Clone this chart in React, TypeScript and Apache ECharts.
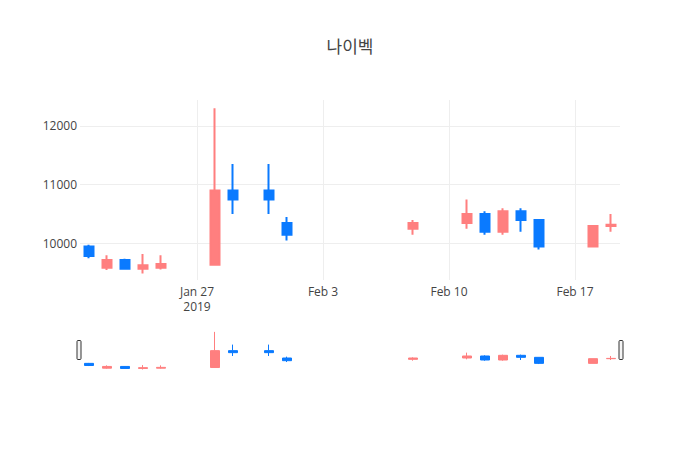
import React, { useEffect, useRef } from "react";
import * as echarts from "echarts";

const title = "나이벡";
const dates = [
  "2019-01-21", "2019-01-22", "2019-01-23", "2019-01-24", "2019-01-25",
  "2019-01-28", "2019-01-29", "2019-01-31", "2019-02-01", "2019-02-08",
  "2019-02-11", "2019-02-12", "2019-02-13", "2019-02-14", "2019-02-15",
  "2019-02-18", "2019-02-19",
];
const openV = [9950, 9590, 9720, 9570, 9590, 9640, 10900, 10900, 10350, 10250, 10350, 10500, 10200, 10550, 10400, 9950, 10300];
const highV = [9980, 9800, 9740, 9820, 9800, 12300, 11350, 11350, 10450, 10400, 10750, 10550, 10600, 10600, 10400, 10300, 10500];
const lowV = [9750, 9550, 9560, 9490, 9560, 9640, 10500, 10500, 10050, 10150, 10250, 10150, 10150, 10200, 9900, 9950, 10200];
const closeV = [9790, 9720, 9570, 9630, 9650, 10900, 10750, 10750, 10150, 10350, 10500, 10200, 10550, 10400, 9950, 10300, 10320];

const xTickDates = ["2019-01-27", "2019-02-03", "2019-02-10", "2019-02-17"];
const xTickLabels = ["Jan 27\n2019", "Feb 3", "Feb 10", "Feb 17"];
const xRangeDates = ["2019-01-20", "2019-02-19"]; // plus half-day padding
const yRange = [9380, 12440];
const yTicks = [10000, 11000, 12000];

const UP = "#ff7f7f";
const DOWN = "#0a7aff";

function toDay(s: string): number {
  const [y, m, d] = s.split("-").map(Number);
  return (Date.UTC(y, m - 1, d) - Date.UTC(2019, 0, 1)) / 86400000;
}

export default function App() {
  const ref = useRef<HTMLDivElement>(null);
  useEffect(() => {
    if (!ref.current) return;
    const chart = echarts.init(ref.current, null, { renderer: "svg" });
    const data = dates.map((d, i) => [toDay(d), openV[i], closeV[i], lowV[i], highV[i]]);
    const xTicks = xTickDates.map(toDay);
    const xMin = toDay(xRangeDates[0]) + 0.5;
    const xMax = toDay(xRangeDates[1]) + 0.5;
    const font = "'Open Sans', 'Noto Sans CJK KR', sans-serif";
    chart.setOption({
      animation: false,
      backgroundColor: "#fff",
      textStyle: { fontFamily: font },
      title: {
        text: title,
        left: "center",
        top: 33,
        textStyle: { fontSize: 17, fontWeight: "normal", color: "#444", fontFamily: font },
      },
      grid: [
        { left: 80, top: 100, width: 540, height: 180 },
        { left: 80, top: 330, width: 540, height: 41 },
      ],
      xAxis: [
        {
          type: "value",
          gridIndex: 0,
          min: xMin,
          max: xMax,
          axisLine: { show: false },
          axisTick: { show: false, customValues: xTicks },
          splitLine: { show: true, lineStyle: { color: "#eee", width: 1 } },
          axisLabel: {
            customValues: xTicks,
            formatter: (v: number) => {
              const i = xTicks.indexOf(v);
              return i >= 0 ? xTickLabels[i] : "";
            },
            color: "#444",
            fontSize: 12,
            lineHeight: 15,
            margin: 4,
            fontFamily: font,
          },
        },
        {
          type: "value",
          gridIndex: 1,
          min: xMin,
          max: xMax,
          show: false,
          splitLine: { show: false },
        },
      ],
      yAxis: [
        {
          type: "value",
          gridIndex: 0,
          min: yRange[0],
          max: yRange[1],
          axisLine: { show: false },
          axisTick: { show: false, customValues: yTicks },
          splitLine: { show: true, lineStyle: { color: "#eee", width: 1 } },
          axisLabel: {
            customValues: yTicks,
            formatter: (v: number) => String(v),
            color: "#444",
            fontSize: 12,
            margin: 3,
            fontFamily: font,
          },
        },
        {
          type: "value",
          gridIndex: 1,
          min: yRange[0],
          max: yRange[1],
          show: false,
          splitLine: { show: false },
        },
      ],
      series: [
        {
          type: "candlestick",
          xAxisIndex: 0,
          yAxisIndex: 0,
          data,
          encode: { x: 0, y: [1, 2, 3, 4] },
          barWidth: 9,
          itemStyle: { color: UP, color0: DOWN, borderColor: UP, borderColor0: DOWN, borderWidth: 2 },
        },
        {
          type: "candlestick",
          xAxisIndex: 1,
          yAxisIndex: 1,
          data,
          encode: { x: 0, y: [1, 2, 3, 4] },
          barWidth: 9,
          silent: true,
          itemStyle: { color: UP, color0: DOWN, borderColor: UP, borderColor0: DOWN, borderWidth: 1 },
        },
      ],
      graphic: [
        {
          type: "rect",
          shape: { x: 77, y: 340.5, width: 4, height: 19, r: 1 },
          style: { fill: "#f4f4f4", stroke: "#333", lineWidth: 1 },
        },
        {
          type: "rect",
          shape: { x: 619, y: 340.5, width: 4, height: 19, r: 1 },
          style: { fill: "#f4f4f4", stroke: "#333", lineWidth: 1 },
        },
      ],
    });
    return () => chart.dispose();
  }, []);
  return (
    <div
      ref={ref}
      style={{ position: "fixed", left: 0, top: 0, width: 700, height: 450, background: "#fff" }}
    />
  );
}
